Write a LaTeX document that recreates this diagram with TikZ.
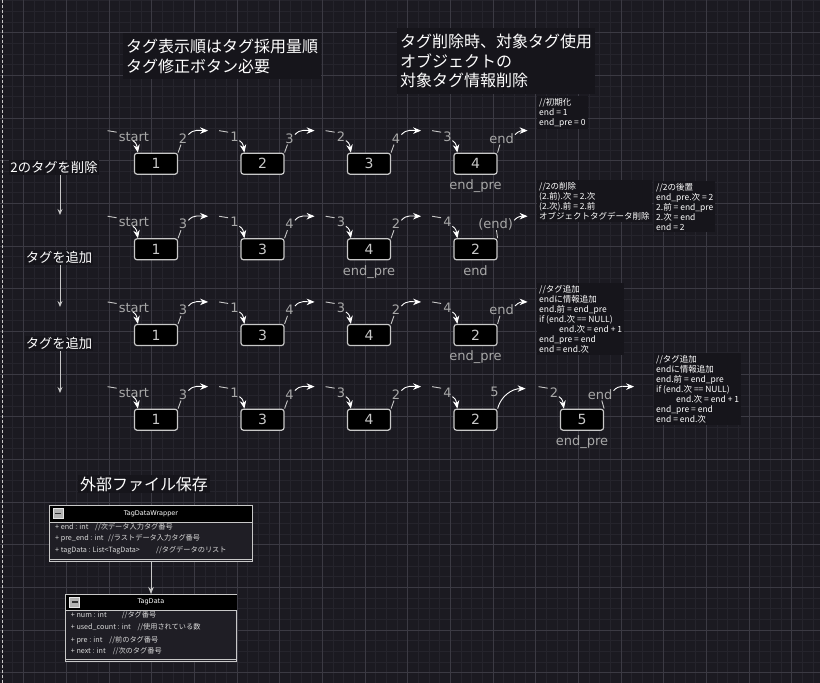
\documentclass[tikz,border=0pt]{standalone}
\usepackage{fontspec}
\setmainfont{DejaVu Sans}
\newfontfamily\jp{Noto Sans CJK JP}
\usepackage{xcolor}
\usepackage{tikz}
\usetikzlibrary{arrows.meta, positioning}
\definecolor{canvas}{HTML}{1B1A21}
\definecolor{gridlo}{HTML}{25242C}
\definecolor{gridhi}{HTML}{3B3A43}
\definecolor{notebg}{HTML}{16151B}
\definecolor{boxline}{HTML}{C8C8C8}
\definecolor{ptrgrey}{HTML}{A8A8A8}
\definecolor{bodybg}{HTML}{1F1E25}
\tikzstyle{minorline} = [draw=gridlo, line width=1pt]
\tikzstyle{majorline} = [draw=gridhi, line width=1pt]
\tikzstyle{tagbox} = [
    rectangle, rounded corners=2.5pt,
    minimum width=43pt, minimum height=21pt, inner sep=0pt,
    draw=boxline, line width=1.2pt, fill=black, text=boxline,
    font=\fontsize{14}{16}\selectfont]
\tikzstyle{ptr} = [
    inner sep=1pt, text=ptrgrey, text height=9.5pt, text depth=0pt,
    font=\fontsize{13}{15}\selectfont]
\tikzstyle{link} = [draw=white, line width=0.9pt, -{Stealth[length=8pt,width=6.5pt]}]
\tikzstyle{stub} = [draw=boxline, line width=0.9pt]
\tikzstyle{note} = [
    anchor=north west, align=left, fill=notebg, text=white, inner sep=2pt,
    font=\jp\fontsize{8.5}{10}\selectfont]
\tikzstyle{headline} = [
    anchor=north west, align=left, fill=notebg, text=white,
    inner xsep=3pt, inner ysep=6pt,
    font=\jp\fontsize{16}{19.5}\selectfont]
\tikzstyle{steplabel} = [
    fill=notebg, text=white, inner sep=1pt,
    font=\jp\fontsize{13.3}{16}\selectfont]
\tikzstyle{downarrow} = [draw=boxline, line width=0.9pt, -{Stealth[length=6pt,width=5pt]}]
\tikzstyle{classbox} = [
    rectangle, anchor=north west, inner sep=0pt,
    draw=boxline, line width=1pt, fill=bodybg]
\tikzstyle{classtitle} = [inner sep=0pt, text=white, font=\fontsize{6.5}{8}\selectfont]
\tikzstyle{member} = [
    anchor=west, inner sep=0pt, text=white!85!black,
    font=\jp\fontsize{7.2}{8}\selectfont]
\tikzstyle{icon} = [
    rectangle, minimum width=10pt, minimum height=10pt, inner sep=0pt,
    draw=white!90!black, fill=white!70!black, line width=0.6pt]
\tikzstyle{classarrow} = [draw=boxline, line width=1pt, -{Stealth[length=7pt,width=5.5pt]}]

\begin{document}
\begin{tikzpicture}[x=1pt, y=1pt]

  % canvas and grid
  \fill[canvas] (0,0) rectangle (820,-683);
  \useasboundingbox (0,0) rectangle (820,-683);
  \foreach \g in {0,...,76} \draw[minorline] (2.33+10.667*\g,0) -- ++(0,-683);
  \foreach \g in {0,...,64} \draw[minorline] (0,-0.7-10.667*\g) -- ++(820,0);
  \foreach \g in {0,...,18} \draw[majorline] (23.7+42.667*\g,0) -- ++(0,-683);
  \foreach \g in {0,...,15} \draw[majorline] (0,-32.7-42.667*\g) -- ++(820,0);
  \draw[boxline, line width=1pt, dash pattern=on 3pt off 2pt] (2,0) -- (2,-683);

  % headings
  \node (head1) [headline] at (123,-33)
      {タグ表示順はタグ採用量順\\タグ修正ボタン必要};
  \node (head2) [headline] at (397,-28)
      {タグ削除時、対象タグ使用\\オブジェクトの\\対象タグ情報削除};

  % tag lists
  \foreach \r/\y/\lst in {
      a/-163.7/{1/156/1/start/0/2/5, 2/262.5/2/1/-6/3/5, 3/369/3/2/-6/4/5, 4/475.5/4/3/-6/end/4},
      b/-249.3/{1/156/1/start/0/3/5, 2/262.5/3/1/-6/4/5, 3/369/4/3/-6/2/5, 4/475.5/2/4/-6/(end)/-2},
      c/-335/{1/156/1/start/0/3/5, 2/262.5/3/1/-6/4/5, 3/369/4/3/-6/2/5, 4/475.5/2/4/-6/end/4},
      d/-419.7/{1/156/1/start/0/3/5, 2/262.5/3/1/-6/4/5, 3/369/4/3/-6/2/5, 5/582/5/2/-6/end/-4}}{
    \foreach \i/\x/\num/\inl/\ix/\outl/\ox in \lst {
      \node (\r\i) [tagbox] at (\x,\y) {\num};
      \node (\r in\i) [ptr] at ([shift={(\ix,16)}]\r\i.north west) {\inl};
      \node (\r out\i) [ptr] at ([shift={(\ox,14)}]\r\i.north east) {\outl};
      \coordinate (\r tip\i) at ([shift={(30,22)}]\r\i.north east);
      \draw [stub] ([shift={(-10,0)}]\r in\i.north west) -- ([shift={(-1,-1.5)}]\r in\i.north west);
      \draw [link] ([shift={(-1,12)}]\r\i.north west) to[out=-30, in=100] ([xshift=4]\r\i.north west);
      \draw [stub] (\r\i.north east) -- (\r out\i);
      \draw [link] ([yshift=-2]\r out\i.north east) to[out=50, in=180] (\r tip\i);
    }
  }

  % new tag 2 in the last row
  \node (d4) [tagbox] at (475.5,-419.7) {2};
  \node (d in4) [ptr] at ([shift={(-6,16)}]d4.north west) {4};
  \node (d out4) [ptr] at ([shift={(-3,17)}]d4.north east) {5};
  \coordinate (d tip4) at ([shift={(28,20)}]d4.north east);
  \draw [stub] ([shift={(-10,0)}]d in4.north west) -- ([shift={(-1,-1.5)}]d in4.north west);
  \draw [link] ([shift={(-1,12)}]d4.north west) to[out=-30, in=100] ([xshift=4]d4.north west);
  \draw [link] (d4.north east) to[out=75, in=180] (d tip4);

  \node (apre) [ptr, below=4pt of a4] {end\_pre};
  \node (bpre) [ptr, below=4pt of b3] {end\_pre};
  \node (bend) [ptr, below=4pt of b4] {end};
  \node (cpre) [ptr, below=4pt of c4] {end\_pre};
  \node (dpre) [ptr, below=4pt of d5] {end\_pre};

  % steps
  \node (del2) [steplabel] at (54,-167.5) {2のタグを削除};
  \node (add1) [steplabel] at (59,-257.5) {タグを追加};
  \node (add2) [steplabel] at (59,-343.5) {タグを追加};
  \coordinate (del2end) at (60,-215);
  \coordinate (add1end) at (60,-307);
  \coordinate (add2end) at (60,-393);
  \draw [downarrow] (del2.south -| del2end) -- (del2end);
  \draw [downarrow] (add1.south -| add1end) -- (add1end);
  \draw [downarrow] (add2.south -| add2end) -- (add2end);

  % notes
  \node (init) [note] at (537,-96) {//初期化\\end = 1\\end\_pre = 0};
  \node (remove) [note] at (537,-180)
      {//2の削除\\(2.前).次 = 2.次\\(2.次).前 = 2.前\\オブジェクトタグデータ削除};
  \node (place) [note] at (654,-181)
      {//2の後置\\end\_pre.次 = 2\\2.前 = end\_pre\\2.次 = end\\end = 2};
  \node (append1) [note] at (537,-283)
      {//タグ追加\\endに情報追加\\end.前 = end\_pre\\if (end.次 == NULL)\\\hspace*{20pt}end.次 = end + 1\\end\_pre = end\\end = end.次};
  \node (append2) [note] at (654,-353)
      {//タグ追加\\endに情報追加\\end.前 = end\_pre\\if (end.次 == NULL)\\\hspace*{20pt}end.次 = end + 1\\end\_pre = end\\end = end.次};

  % saved file classes
  \node (save) [headline, anchor=center, inner sep=2pt] at (144,-484) {外部ファイル保存};

  \node (wrapper) [classbox, minimum width=202.4pt, minimum height=55.7pt] at (49.3,-505) {};
  \fill[black] ([shift={(0.5,-0.5)}]wrapper.north west) rectangle ([shift={(-0.5,-16.7)}]wrapper.north east);
  \draw[boxline] ([yshift=-16.7]wrapper.north west) -- ([yshift=-16.7]wrapper.north east);
  \draw[boxline] ([yshift=3]wrapper.south west) -- ([yshift=3]wrapper.south east);
  \node (wicon) [icon] at ([shift={(8.7,-8.5)}]wrapper.north west) {};
  \draw[black!80, line width=1.2pt] ([xshift=2.5]wicon.west) -- ([xshift=-2.5]wicon.east);
  \node (wtitle) [classtitle] at ([yshift=-8.5]wrapper.north) {TagDataWrapper};
  \node (wend) [member] at (55,-527.3) {\makebox[40pt][l]{+ end : int}//次データ入力タグ番号};
  \node (wpre) [member] at (55,-538.3) {\makebox[53pt][l]{+ pre\_end : int}//ラストデータ入力タグ番号};
  \node (wlist) [member] at (55,-550) {\makebox[101pt][l]{+ tagData : List<TagData>}//タグデータのリスト};

  \node (tagdata) [classbox, minimum width=171pt, minimum height=67pt] at (65,-594) {};
  \fill[black] ([shift={(0.5,-0.5)}]tagdata.north west) rectangle ([shift={(-0.5,-16)}]tagdata.north east);
  \draw[boxline] ([yshift=-16]tagdata.north west) -- ([yshift=-16]tagdata.north east);
  \draw[boxline] ([yshift=3]tagdata.south west) -- ([yshift=3]tagdata.south east);
  \node (ticon) [icon] at ([shift={(9.7,-8)}]tagdata.north west) {};
  \draw[black!80, line width=1.2pt] ([xshift=2.5]ticon.west) -- ([xshift=-2.5]ticon.east);
  \node (ttitle) [classtitle] at ([yshift=-8]tagdata.north) {TagData};
  \node (tnum) [member] at (70.7,-615) {\makebox[51pt][l]{+ num : int}//タグ番号};
  \node (tused) [member] at (70.7,-626.7) {\makebox[66.6pt][l]{+ used\_count : int}//使用されている数};
  \node (tpre) [member] at (70.7,-640) {\makebox[38.6pt][l]{+ pre : int}//前のタグ番号};
  \node (tnext) [member] at (70.7,-650.7) {\makebox[42pt][l]{+ next : int}//次のタグ番号};

  \draw [classarrow] (wrapper.south) -- (tagdata.north);

\end{tikzpicture}
\end{document}
